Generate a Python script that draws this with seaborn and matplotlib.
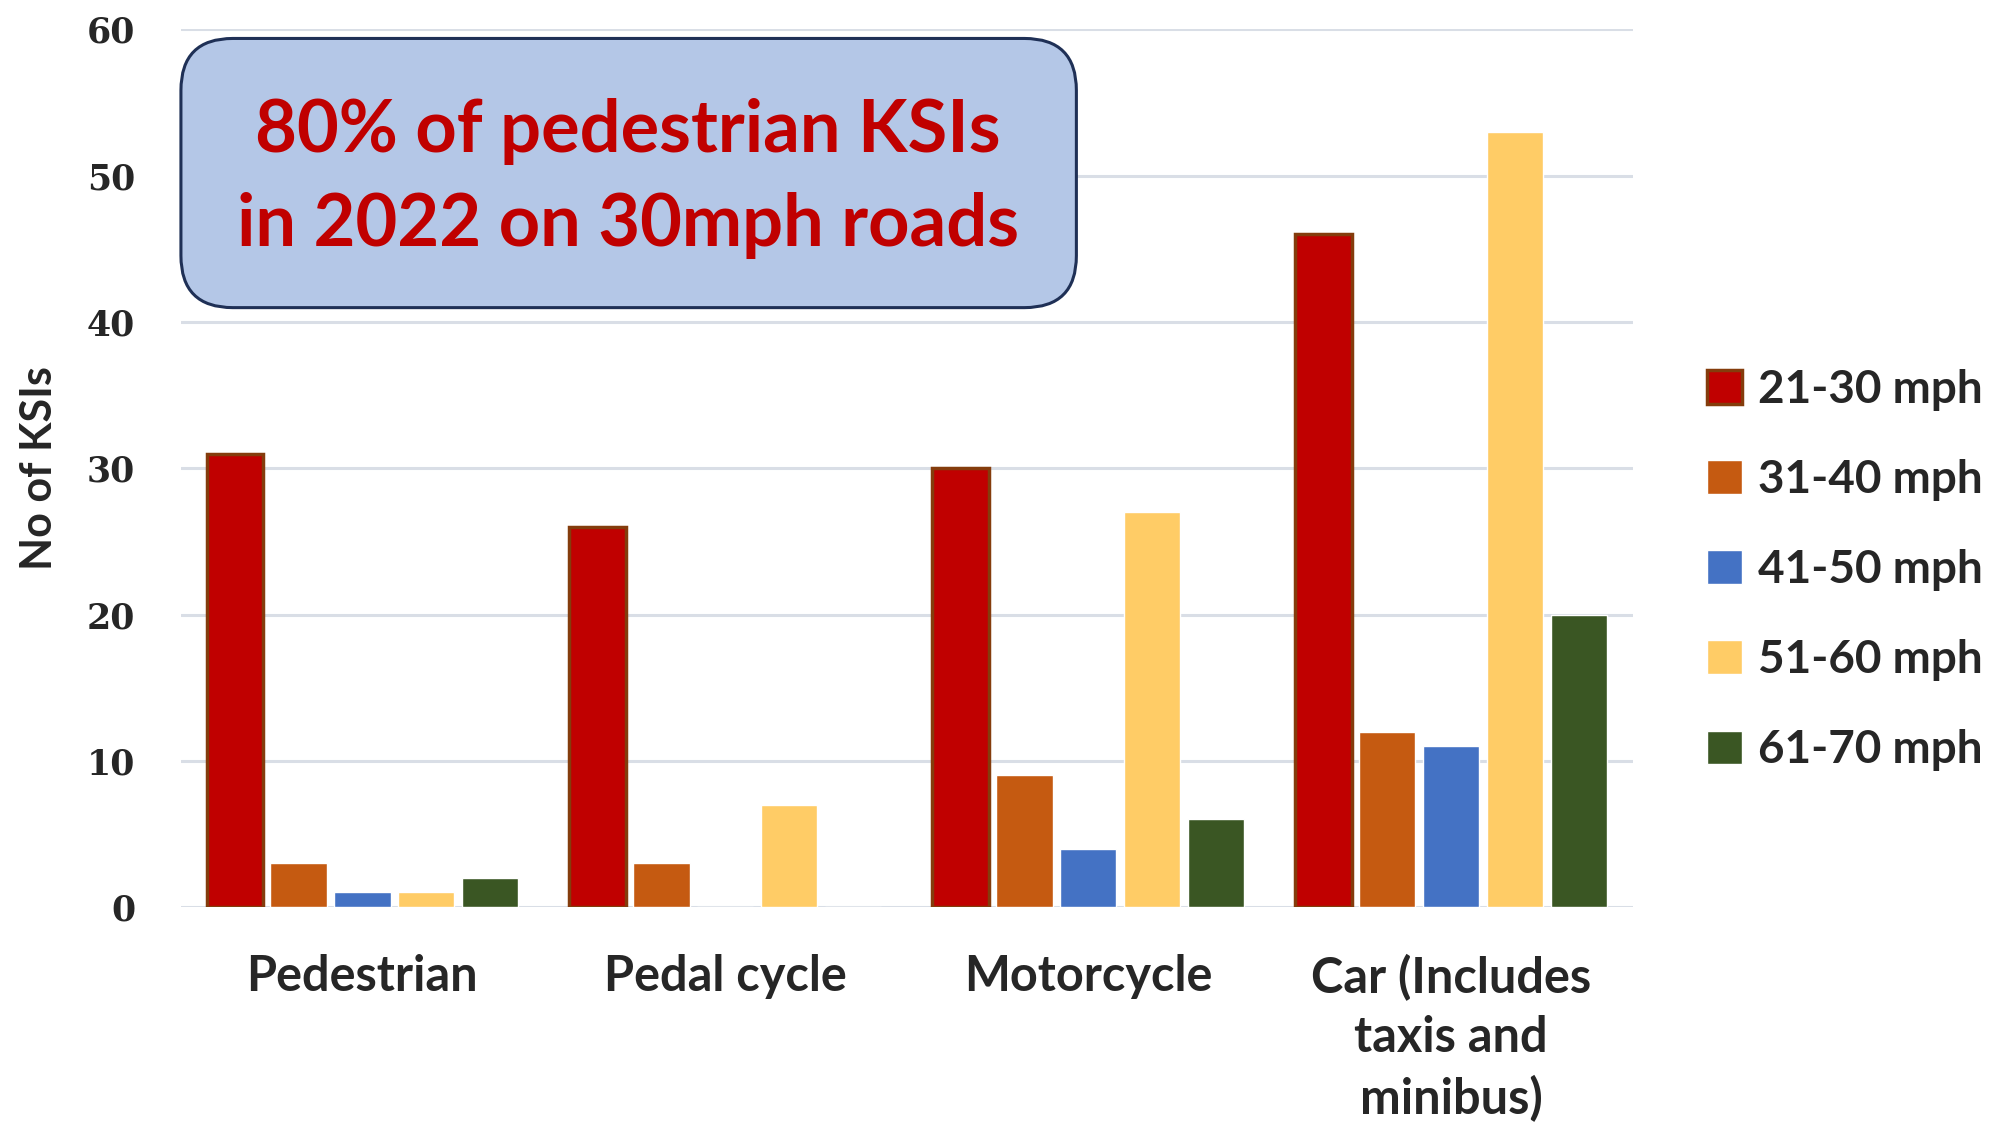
import pandas as pd
import matplotlib.pyplot as plt
import seaborn as sns
from matplotlib.patches import FancyBboxPatch

# --- data ---
categories = ["Pedestrian", "Pedal cycle", "Motorcycle", "Car (Includes\ntaxis and\nminibus)"]
speeds = ["21-30 mph", "31-40 mph", "41-50 mph", "51-60 mph", "61-70 mph"]
v_21_30 = [31, 26, 30, 46]
v_31_40 = [3, 3, 9, 12]
v_41_50 = [1, 0, 4, 11]
v_51_60 = [1, 7, 27, 53]
v_61_70 = [2, 0, 6, 20]

colors = ["#C00000", "#C55A11", "#4472C4", "#FFCC66", "#3A5623"]

rows = []
for speed, vals in zip(speeds, [v_21_30, v_31_40, v_41_50, v_51_60, v_61_70]):
    for cat, v in zip(categories, vals):
        rows.append({"Category": cat, "Speed": speed, "KSIs": v})
df = pd.DataFrame(rows)

sns.set_style("white")
plt.rcParams['font.family'] = ['Lato', 'DejaVu Sans']

fig = plt.figure(figsize=(19.97, 11.31), dpi=100)
ax = fig.add_axes([0.0906, 0.198, 0.727, 0.776])

sns.barplot(data=df, x="Category", y="KSIs", hue="Speed", palette=colors,
            width=0.88, gap=0.12, saturation=1, ax=ax, zorder=3)

# dark brown outline on the 21-30 mph bars only
for bar in ax.containers[0]:
    bar.set_edgecolor("#843C0C")
    bar.set_linewidth(2.5)

ax.set_ylim(0, 60)
ax.set_xlim(-0.5, 3.5)
ax.set_yticks(range(0, 61, 10))
ax.yaxis.grid(True, color="#D9DEE6", linewidth=2.2, zorder=0)
ax.set_axisbelow(True)
sns.despine(ax=ax, left=True, bottom=True, top=True, right=True)
ax.tick_params(axis="both", length=0)
ax.tick_params(axis="y", pad=33)
ax.tick_params(axis="x", pad=34)

for lbl in ax.get_yticklabels():
    lbl.set_fontfamily("DejaVu Serif")
    lbl.set_fontweight("bold")
    lbl.set_fontsize(25)
for lbl in ax.get_xticklabels():
    lbl.set_fontweight("bold")
    lbl.set_fontsize(35)
    lbl.set_linespacing(1.38)
    lbl.set_verticalalignment("top")

ax.set_xlabel("")
ax.set_ylabel("No of KSIs", fontsize=31, fontweight="bold")
ax.yaxis.set_label_coords(-0.084, 0.5)

# legend
handles, labels = ax.get_legend_handles_labels()
leg = ax.legend(handles, labels, loc="center left", bbox_to_anchor=(1.023, 0.384),
                frameon=False, handlelength=0.75, handleheight=0.75,
                handletextpad=0.35, labelspacing=1.05,
                prop={"weight": "bold", "size": 33})
leg.legend_handles[0].set_edgecolor("#843C0C")
leg.legend_handles[0].set_linewidth(2.5)

# callout box
box = FancyBboxPatch((0.0906, 0.728), 0.4484, 0.238,
                     boxstyle="round,pad=0,rounding_size=0.026",
                     mutation_aspect=1997 / 1131,
                     transform=fig.transFigure, facecolor="#B4C7E7",
                     edgecolor="#1F3056", linewidth=2.2, zorder=5)
fig.patches.append(box)
fig.text(0.3145, 0.842, "80% of pedestrian KSIs\nin 2022 on 30mph roads",
         ha="center", va="center", color="#C00000", fontsize=52,
         fontweight="bold", linespacing=1.51, zorder=6)

plt.savefig("out.png", dpi=100)
